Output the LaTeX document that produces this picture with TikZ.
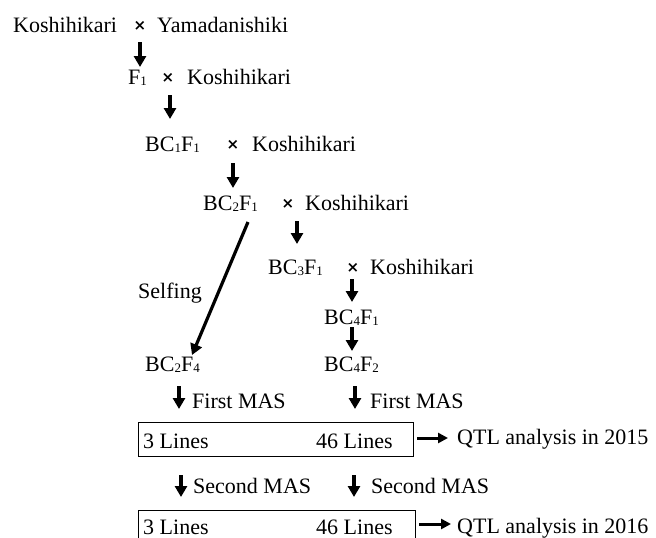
\documentclass[tikz,border=0pt]{standalone}
\usepackage{fontspec}
\setmainfont{Liberation Serif}
\newfontfamily\symfont{DejaVu Sans}
\usetikzlibrary{arrows.meta}
\newcommand\lo[1]{\raisebox{-0.1ex}{\fontsize{13}{13}\selectfont #1}}
\newcommand\crossmark{{\symfont\bfseries\fontsize{15}{15}\selectfont ×}}
\begin{document}
\begin{tikzpicture}[x=1pt,y=-1pt,
  txt/.style={anchor=base west,inner sep=0pt,font=\fontsize{22}{24}\selectfont},
  crs/.style={anchor=base,inner sep=0pt},
  arr/.style={line width=3.2pt,-{Triangle[length=11pt,width=12pt]}},
  hline/.style={line width=3pt,-{Triangle[length=10pt,width=10pt]}},
  boxline/.style={draw,line width=0.9pt}]
\useasboundingbox (0,0) rectangle (656,538);
% row 1
\node[txt] (r1a) at (13,32) {Koshihikari};
\node[crs] (x1) at (140,30) {\crossmark};
\node[txt] (r1b) at (157,32) {Yamadanishiki};
% row 2
\node[txt] (f1) at (128,84) {F\lo{1}};
\node[crs] (x2) at (168,82) {\crossmark};
\node[txt] (r2b) at (187,84) {Koshihikari};
% row 3
\node[txt] (bc1) at (145,151) {BC\lo{1}F\lo{1}};
\node[crs] (x3) at (233,149) {\crossmark};
\node[txt] (r3b) at (252,151) {Koshihikari};
% row 4
\node[txt] (bc2) at (203,210) {BC\lo{2}F\lo{1}};
\node[crs] (x4) at (288,208) {\crossmark};
\node[txt] (r4b) at (305,210) {Koshihikari};
% row 5
\node[txt] (bc3) at (268,274) {BC\lo{3}F\lo{1}};
\node[crs] (x5) at (353,272) {\crossmark};
\node[txt] (r5b) at (370,274) {Koshihikari};
% lower
\node[txt] (self) at (138,298) {Selfing};
\node[txt] (bc4a) at (324,324) {BC\lo{4}F\lo{1}};
\node[txt] (bc4b) at (324,371) {BC\lo{4}F\lo{2}};
\node[txt] (bc2f4) at (145,371) {BC\lo{2}F\lo{4}};
\node[txt] (fm1) at (192,408) {First MAS};
\node[txt] (fm2) at (370,408) {First MAS};
% box 1
\node[boxline,anchor=north west,minimum width=275pt,minimum height=34pt,inner sep=0pt] (box1) at (138,422) {};
\node[txt] (l1a) at (143,448) {3 Lines};
\node[txt] (l1b) at (316,448) {46 Lines};
\node[txt] (q1) at (457,444) {QTL analysis in 2015};
\node[txt] (sm1) at (193,493) {Second MAS};
\node[txt] (sm2) at (371,493) {Second MAS};
% box 2
\node[boxline,anchor=north west,minimum width=277pt,minimum height=40pt,inner sep=0pt] (box2) at (138,510) {};
\node[txt] (l2a) at (143,534) {3 Lines};
\node[txt] (l2b) at (316,534) {46 Lines};
\node[txt] (q2) at (457,533) {QTL analysis in 2016};
% arrow end points
\coordinate (a1s) at (140,42); \coordinate (a1e) at (140,67);
\coordinate (a2s) at (170,95); \coordinate (a2e) at (170,119);
\coordinate (a3s) at (233,163); \coordinate (a3e) at (233,188);
\coordinate (a4s) at (297,221); \coordinate (a4e) at (297,244);
\coordinate (a5s) at (352,279); \coordinate (a5e) at (352,302);
\coordinate (a6s) at (352,327); \coordinate (a6e) at (352,351);
\coordinate (ds) at (248,222); \coordinate (de) at (192,355);
\coordinate (m1s) at (179,386); \coordinate (m1e) at (179,409);
\coordinate (m2s) at (355,386); \coordinate (m2e) at (355,409);
\coordinate (m3s) at (181,475); \coordinate (m3e) at (181,497);
\coordinate (m4s) at (354,475); \coordinate (m4e) at (354,497);
\coordinate (h1s) at (417,438); \coordinate (h1e) at (448,438);
\coordinate (h2s) at (419,524); \coordinate (h2e) at (451,524);
\draw[arr] (a1s) -- (a1e);
\draw[arr] (a2s) -- (a2e);
\draw[arr] (a3s) -- (a3e);
\draw[arr] (a4s) -- (a4e);
\draw[arr] (a5s) -- (a5e);
\draw[arr] (a6s) -- (a6e);
\draw[arr] (ds) -- (de);
\draw[arr] (m1s) -- (m1e);
\draw[arr] (m2s) -- (m2e);
\draw[arr] (m3s) -- (m3e);
\draw[arr] (m4s) -- (m4e);
\draw[hline] (h1s) -- (h1e);
\draw[hline] (h2s) -- (h2e);
\end{tikzpicture}
\end{document}
